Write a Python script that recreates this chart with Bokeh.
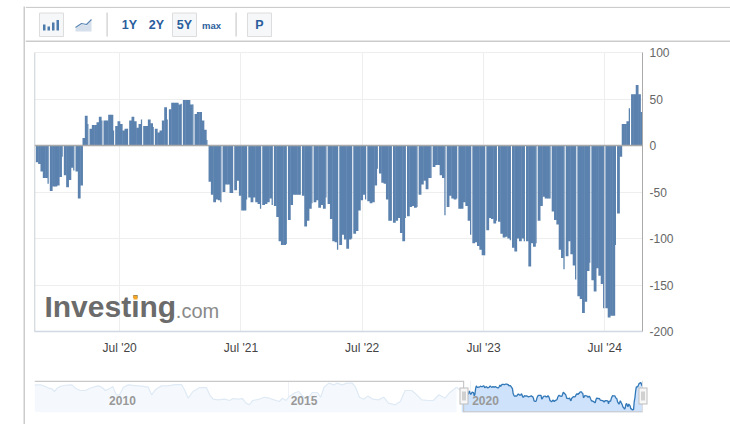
import numpy as np
from bokeh.embed import file_html
from bokeh.resources import INLINE
from bokeh.layouts import column, row
from bokeh.plotting import figure
from bokeh.models import (Range1d, FixedTicker, Span, BoxAnnotation, Label, Grid)
from bokeh.core.properties import value

# ---- data ----
weekly_values = [
 -18,-20,-28,-35,-35,-41,-49,-44,-44,-43,-34,-12,-32,-45,-37,-24,-27,-28,-57,-43,
 8,32,23,18,22,22,25,31,27,27,27,33,33,16,21,26,23,16,18,18,27,31,26,19,23,28,21,21,28,24,
 20,18,14,16,27,41,28,39,46,46,46,44,45,49,49,49,44,44,34,36,36,27,17,6,
 -39,-53,-61,-58,-59,-61,-50,-42,-42,-51,-51,-48,-38,-54,-70,-70,-58,-56,-61,-56,
 -61,-63,-68,-64,-63,-61,-57,-64,-65,-77,-103,-107,-107,-106,-80,-64,-53,-53,-53,-53,
 -54,-87,-81,-68,-62,-61,-59,-67,-64,-68,-56,-63,-79,-103,-104,-112,-107,-96,-101,-111,
 -101,-100,-95,-92,-70,-59,-53,-58,-60,-62,-61,-43,-25,-30,-40,-41,-58,-81,-81,-83,
 -81,-78,-94,-103,-78,-76,-66,-65,-67,-66,
 -53,-42,-38,-47,-35,-35,-23,-21,-21,-32,-35,-75,-66,-54,-57,-58,-57,-68,-68,-61,
 -65,-81,-96,-105,-104,-108,-112,-118,-118,-91,-78,-79,-84,-81,-82,-95,-99,-98,-100,-102,
 -110,-114,-100,-103,-100,-103,-103,-130,-105,-109,-105,-81,-65,-55,-57,-57,-57,-71,-80,-85,
 -112,-121,-133,-119,-103,-117,-129,-144,-162,-165,-180,-168,-135,-126,-145,-157,-132,-140,-149,-175,
 -175,-185,-183,-183,-107,-73,-12,23,23,26,40,55,55,65,55,36,34,
]
tick_weeks = [35.9, 87.9, 139.8, 191.8, 243.7]
tick_labels = ["Jul '20", "Jul '21", "Jul '22", "Jul '23", "Jul '24"]
y_ticks = [-200, -150, -100, -50, 0, 50, 100]

nav_months = [0,0.3,2,3.6,4.7,5.8,6.6,7.5,8.6,10.2,12.4,13.5,15.1,16.8,18.4,20.1,21.2,22.3,23.4,25,25.9,27,28.1,29.4,
 31,33.2,35.4,37.6,38.7,40.1,42,44.2,46.4,48.6,49.7,50.8,52.4,54.6,56.8,57.9,59,60.6,62.8,64.5,65.6,67.2,68.8,69.9,
 71,72.1,74.3,75.9,77.6,79.2,80.9,82,83.1,84.2,85.8,87.4,88.5,90.2,91.8,93.5,94.6,95.7,97.3,99,100,101.7,103.3,105,
 106.1,107.4,108.8,110.2,111.8,113.7,115.4,117,119.2,120.9,122.5,124.7,126.3,128,130.2,131.8,133.7,135.7,137.3,139.5]
nav_values = [33,42,42,27,12,6,-18,12,30,39,42,12,-9,-9,12,27,33,21,-9,12,27,-48,-48,21,
 42,36,30,21,-48,3,33,33,45,45,-9,-79,-18,18,18,-48,-88,-94,-88,-100,-82,-88,-82,-124,
 -139,-100,-88,-70,-79,-94,-109,-79,-100,-64,-33,-18,-58,-88,-27,-27,-70,21,58,42,58,42,58,58,
 21,-70,-88,-58,-88,-94,-70,-124,-139,-109,-9,-9,-48,-94,-100,-100,-48,-79,-27,21]
nav_year_labels = ["2010", "2015", "2020"]
nav_year_months = [24, 84, 144]

# ---- style ----
FONT = value("Liberation Sans")
BAR = "#5b82ae"
BLUE = "#2a5d9c"
BORDER = "#cccccc"
LEFT = 25
W = 705

values = np.array(weekly_values, dtype=float)
n = len(values)
week = np.arange(n, dtype=float)


def canvas_box(p, x0, y0, x1, y1, color, top_page):
    p.add_layout(BoxAnnotation(left=x0 - LEFT, right=x1 - LEFT, top=y0 - top_page, bottom=y1 - top_page,
                               left_units="canvas", right_units="canvas", top_units="canvas", bottom_units="canvas",
                               fill_color=color, fill_alpha=1, line_alpha=0, level="overlay"))


def strip(width, height):
    s = figure(width=width, height=height, output_backend="svg", toolbar_location=None, min_border=0,
               x_axis_type=None, y_axis_type=None, outline_line_color=None, background_fill_color=BORDER,
               border_fill_color=BORDER, frame_align=False, x_range=Range1d(0, 1), y_range=Range1d(0, 1))
    s.grid.visible = False
    return s


# ---- toolbar strip (page coordinates) ----
TOP0, TOP1 = 6, 42
top = figure(width=W, height=TOP1 - TOP0, x_range=Range1d(25, 730), y_range=Range1d(TOP1, TOP0),
             output_backend="svg", toolbar_location=None, min_border=0, x_axis_type=None, y_axis_type=None,
             outline_line_color=None, frame_align=False)
top.grid.visible = False
top.quad(left=[25, 25], right=[730, 730], top=[6.2, 40], bottom=[7.6, 41.4], fill_color=BORDER, line_color=None)
top.quad(left=[39, 172, 247], right=[63, 196, 271], top=[12.5, 12.5, 12.5], bottom=[36, 36, 36],
         fill_color="#f6f7f8", line_color="#dddddd")
top.quad(left=[106, 235], right=[107.2, 236.2], top=[12, 12], bottom=[36, 36], fill_color=BORDER, line_color=None)
top.quad(left=[42.5, 47, 51.5, 56], right=[45, 49.5, 54, 58.5], top=[24, 26, 22, 19.5], bottom=[30, 30, 30, 30],
         fill_color="#4d7bab", line_color=None)
top.patch([75, 81, 86, 91, 91, 75], [28, 24, 25, 20, 31, 31], fill_color="#d5e0ec", line_color=None)
top.line([75, 81, 86, 91], [27, 23, 24, 19], line_color="#5b86b3", line_width=1.2)
top.text(x=[129, 156, 184, 259], y=[24.5] * 4, text=["1Y", "2Y", "5Y", "P"], text_font=FONT,
         text_font_size="12.5px", text_font_style="bold", text_color=BLUE, text_align="center", text_baseline="middle")
top.text(x=[211], y=[24.5], text=["max"], text_font=FONT, text_font_size="9.5px", text_font_style="bold",
         text_color=BLUE, text_align="center", text_baseline="middle")

# ---- main chart ----
MAIN0, MAIN1 = 42, 372
main = figure(width=W, height=MAIN1 - MAIN0, x_range=Range1d(-0.56, 259.9), y_range=Range1d(-200, 100),
              output_backend="svg", toolbar_location=None, y_axis_location="right", frame_align=False,
              min_border_left=9, min_border_right=88, min_border_top=10, min_border_bottom=41,
              outline_line_color="#eeeeee")
main.xaxis.ticker = FixedTicker(ticks=tick_weeks)
main.xaxis.major_label_overrides = {t: l for t, l in zip(tick_weeks, tick_labels)}
main.yaxis.ticker = FixedTicker(ticks=y_ticks)
main.yaxis.major_label_overrides = {t: str(t) for t in y_ticks}
for ax in (main.xaxis[0], main.yaxis[0]):
    ax.major_tick_line_color = None
    ax.minor_tick_line_color = None
    ax.major_label_text_font = "Liberation Sans"
    ax.major_label_text_font_size = "12px"
main.xaxis.axis_line_color = "#cfd8e3"
main.xaxis.axis_line_width = 1.5
main.xaxis.major_label_text_color = "#444444"
main.xaxis.major_label_standoff = 3
main.yaxis.axis_line_color = "#aaaaaa"
main.yaxis.major_label_text_color = "#666666"
main.yaxis.major_label_standoff = 1
main.grid.grid_line_color = "#eeeeee"
main.grid.level = "underlay"

right_edges = week + 1.2
gap_weeks = np.arange(79.1 % 5.655, n, 5.655)
gap_index = np.floor(gap_weeks).astype(int)
right_edges[gap_index] = gap_index + 0.55
main.quad(left=week, right=right_edges, top=np.maximum(values, 0), bottom=np.minimum(values, 0),
          fill_color=BAR, line_color=None)
main.add_layout(Span(location=0, dimension="width", line_color="#a9a9a9", line_width=1.5))
main.add_layout(Span(location=-0.56, dimension="height", line_color="#c4c9ce", line_width=1.5))
main.add_layout(Label(x=3.7, y=-173.5, text="Investing", text_font="Liberation Sans", text_font_size="30px",
                      text_font_style="bold", text_color="#6b6b6b", text_baseline="alphabetic"))
main.add_layout(Label(x=60, y=-177.8, text=".com", text_font="Liberation Sans", text_font_size="20px",
                      text_color="#8a8a8a", text_baseline="alphabetic"))
canvas_box(main, 133, 295, 137, 299, "#f5a623", MAIN0)

# ---- navigator ----
NAV0, NAV1 = 372, 422
nav = figure(width=W, height=NAV1 - NAV0, x_range=Range1d(0, 203.6), y_range=Range1d(-209, 82),
             output_backend="svg", toolbar_location=None, x_axis_type=None, y_axis_type=None, frame_align=False,
             min_border_left=9, min_border_right=80, min_border_top=8, min_border_bottom=10,
             outline_line_color=None)
nav.grid.visible = False
nav.add_layout(Grid(dimension=0, ticker=FixedTicker(ticks=nav_year_months[1:]), grid_line_color="#eef1f5"))
sel_months = 141.2 + week * 12 / 52.18
old_m = np.array(nav_months)
old_v = np.array(nav_values, dtype=float)
nav.varea(x=old_m, y1=old_v, y2=-209, fill_color="#f5f9fd")
nav.line(old_m, old_v, line_color="#dfeaf5", line_width=1.2)
nav.line([old_m[-1], sel_months[0]], [old_v[-1], values[0]], line_color="#dfeaf5", line_width=1.2)
nav.varea(x=sel_months, y1=values, y2=-209, fill_color="#cee2fb")
nav.line(sel_months, values, line_color="#3278b8", line_width=1.3)
nav.text(x=nav_year_months, y=[-100] * 3, text=nav_year_labels, text_font=FONT, text_font_size="12px",
         text_font_style="bold", text_color="#999999", text_baseline="middle", x_offset=[2, 2, 2])
canvas_box(nav, 34, 380, 463, 381.4, "#c8c8c8", NAV0)
canvas_box(nav, 463, 410.8, 642, 412, "#c8c8c8", NAV0)
canvas_box(nav, 462.5, 380, 463.7, 412, "#c8c8c8", NAV0)
canvas_box(nav, 641.5, 380, 642.5, 412, "#dddddd", NAV0)
for hx in (459, 638):
    canvas_box(nav, hx, 387, hx + 9, 404, "#bdbdbd", NAV0)
    canvas_box(nav, hx + 1, 388, hx + 8, 403, "#f7f7f7", NAV0)
    canvas_box(nav, hx + 3, 391, hx + 4, 400, "#aaaaaa", NAV0)
    canvas_box(nav, hx + 5, 391, hx + 6, 400, "#aaaaaa", NAV0)

body = column(top, main, nav, strip(W, 2), spacing=0)
root = row(strip(2, 418), body, spacing=0, margin=(6, 0, 0, 23))
open("out.html", "w").write(file_html(root, INLINE))
